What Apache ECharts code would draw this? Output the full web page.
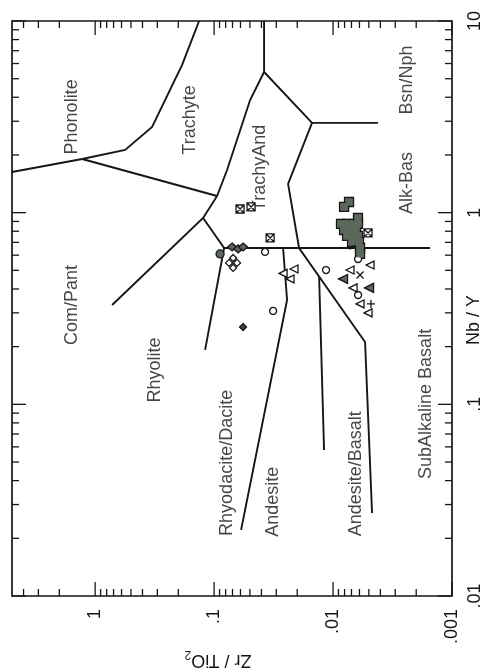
<!DOCTYPE html>
<html>
<head>
<meta charset="utf-8">
<title>Zr/TiO2 vs Nb/Y</title>
<script src="https://cdn.jsdelivr.net/npm/echarts@6/dist/echarts.min.js"></script>
<style>
  html, body { margin: 0; padding: 0; background: #fff; }
  #chart { width: 497px; height: 672px; }
</style>
</head>
<body>
<div id="chart"></div>
<script>
// Winchester & Floyd style discrimination diagram, drawn turned on its side:
// Zr/TiO2 runs along the bottom (decreasing to the right), Nb/Y up the right edge.

// ---- axis ranges and ticks ----
const zrRange = [0.001, 5];
const nbRange = [0.01, 10];
const zrMajorTicks = [0.001, 0.01, 0.1, 1];
const zrTickLabels = ['.001', '.01', '.1', '1'];
const zrMinorTicks = [0.002, 0.003, 0.004, 0.005, 0.006, 0.007, 0.008, 0.009,
                      0.02, 0.03, 0.04, 0.05, 0.06, 0.07, 0.08, 0.09,
                      0.2, 0.3, 0.4, 0.5, 0.6, 0.7, 0.8, 0.9,
                      2, 3, 4];
const nbMajorTicks = [0.01, 0.1, 1, 10];
const nbTickLabels = ['.01', '.1', '1', '10'];
const nbMinorTicks = [0.02, 0.03, 0.04, 0.05, 0.06, 0.07, 0.08, 0.09,
                      0.2, 0.3, 0.4, 0.5, 0.6, 0.7, 0.8, 0.9,
                      2, 3, 4, 5, 6, 7, 8, 9];

// ---- field boundaries, points are [Zr/TiO2, Nb/Y] ----
const phonoliteBoundary = [[5, 1.63], [1.286, 1.906], [0.5597, 2.124], [0.332, 2.80], [0.1857, 5.90], [0.1337, 10]];
const trachyteComPant = [[1.286, 1.906], [0.0944, 1.222]];
const trachyteTrachyAnd = [[0.0944, 1.222], [0.0778, 1.670], [0.0498, 3.87], [0.0380, 5.42], [0.0380, 10]];
const bsnNphBoundary = [[0.0380, 5.42], [0.01502, 2.94], [0.00419, 2.94]];
const alkBasBoundary = [[0.01502, 2.94], [0.02388, 1.412], [0.0193, 0.654], [0.00538, 0.2116], [0.0047, 0.02713]];
const rhyoliteComPant = [[0.0944, 1.222], [0.1237, 0.938], [0.7197, 0.330]];
const rhyoliteDacite = [[0.1237, 0.938], [0.0824, 0.654], [0.119, 0.1922]];
const trachyAndBase = [[0.0824, 0.654], [0.00153, 0.654]];
const daciteAndesite = [[0.0263, 0.654], [0.02435, 0.3504], [0.0593, 0.02212]];
const andesiteBasalt = [[0.0131, 0.4675], [0.0119, 0.0578]];

// ---- field names and where they sit ----
const fieldNames = ['Phonolite', 'Trachyte', 'TrachyAnd', 'Bsn/Nph', 'Alk-Bas', 'Com/Pant',
                    'Rhyolite', 'Rhyodacite/Dacite', 'Andesite', 'Andesite/Basalt', 'SubAlkaline Basalt'];
const fieldPositions = [[1.56, 3.16], [0.159, 3.045], [0.0411, 1.711], [0.00239, 4.92], [0.00239, 1.428],
                        [1.56, 0.330], [0.313, 0.151], [0.0778, 0.0495], [0.0319, 0.031],
                        [0.00641, 0.0434], [0.00165, 0.1005]];

// ---- samples, [Zr/TiO2, Nb/Y] ----
const greySquares = [[0.00734, 1.137], [0.00808, 1.071],
                     [0.00617, 0.938],
                     [0.00857, 0.873], [0.00762, 0.873], [0.00679, 0.873], [0.00617, 0.873],
                     [0.00808, 0.812], [0.00720, 0.812], [0.00641, 0.812],
                     [0.00762, 0.756], [0.00679, 0.756], [0.00617, 0.756],
                     [0.00692, 0.703], [0.00605, 0.703],
                     [0.00593, 0.654], [0.00593, 0.609]];
const crossedSquares = [[0.0605, 1.045], [0.0489, 1.071], [0.0338, 0.738], [0.00508, 0.784]];
const greyDiamonds = [[0.0706, 0.662], [0.0628, 0.647], [0.0571, 0.662]];
const greyCircles = [[0.0891, 0.609]];
const openDiamonds = [[0.0748, 0.547], [0.0692, 0.580], [0.0641, 0.547], [0.0692, 0.515]];
const openCircles = [[0.0373, 0.624], [0.0319, 0.307], [0.01145, 0.502], [0.00616, 0.573], [0.00616, 0.372]];
const openTriangles = [[0.0263, 0.482], [0.0213, 0.508], [0.0230, 0.451], [0.00489, 0.533], [0.0072, 0.502],
                       [0.00679, 0.405], [0.00593, 0.334], [0.00508, 0.300]];
const greyTriangles = [[0.00824, 0.451], [0.00498, 0.405]];
const crosses = [[0.00679, 0.670], [0.00593, 0.473]];
const plusses = [[0.0048, 0.334]];
const smallDiamonds = [[0.0571, 0.253]];

// ---- styling ----
const FONT = 'Liberation Sans, Arial, Helvetica, sans-serif';
const INK = '#161616';
const GREY = '#5b685c';
const TICK_MAJOR = 14;
const TICK_MINOR = 7;
const TRI_LEFT = 'path://M0,5 L9,0 L9,10 Z';
const CROSS_X = 'path://M0,0 L10,10 M10,0 L0,10';
const PLUS = 'path://M5,0 L5,10 M0,5 L10,5';
const BOX_X = 'path://M0,0 L10,0 L10,10 L0,10 Z M0,0 L10,10 M10,0 L0,10';

function tickLabel(majors, labels) {
  return function (v) {
    const e = Math.log10(v);
    for (let i = 0; i < majors.length; i++) {
      if (Math.abs(e - Math.log10(majors[i])) < 1e-6) return labels[i];
    }
    return '';
  };
}

function scatter(data, symbol, size, fill, extra) {
  return Object.assign({
    type: 'scatter',
    data: data,
    symbol: symbol,
    symbolSize: size,
    silent: true,
    z: 4,
    itemStyle: { color: fill, borderColor: INK, borderWidth: 1.3, opacity: 1 }
  }, extra || {});
}

const tickStyle = { stroke: INK, lineWidth: 1.3 };

const zrTickData = zrMajorTicks.map(v => [v, nbRange[0], 1])
  .concat(zrMinorTicks.map(v => [v, nbRange[0], 0]));
const nbTickData = nbMajorTicks.map(v => [zrRange[0], v, 1])
  .concat(nbMinorTicks.map(v => [zrRange[0], v, 0]));

const boundaries = [phonoliteBoundary, trachyteComPant, trachyteTrachyAnd, bsnNphBoundary, alkBasBoundary,
                    rhyoliteComPant, rhyoliteDacite, trachyAndBase, daciteAndesite, andesiteBasalt];

const chart = echarts.init(document.getElementById('chart'), null, { renderer: 'canvas' });

chart.setOption({
  animation: false,
  backgroundColor: '#fff',
  textStyle: { fontFamily: FONT },
  grid: {
    left: 12, right: 45, top: 21, bottom: 76,
    show: true, borderColor: INK, borderWidth: 1.7, backgroundColor: 'transparent',
    outerBoundsMode: 'none'
  },
  xAxis: {
    type: 'log',
    min: zrRange[0],
    max: zrRange[1],
    inverse: true,
    position: 'bottom',
    axisLine: { show: false },
    axisTick: { show: false },
    splitLine: { show: false },
    minorTick: { show: false },
    axisLabel: {
      rotate: 90, margin: 13, fontSize: 18, color: INK, fontFamily: FONT,
      showMinLabel: true, showMaxLabel: true,
      formatter: tickLabel(zrMajorTicks, zrTickLabels)
    }
  },
  yAxis: {
    type: 'log',
    min: nbRange[0],
    max: nbRange[1],
    position: 'right',
    axisLine: { show: false },
    axisTick: { show: false },
    splitLine: { show: false },
    minorTick: { show: false },
    axisLabel: {
      rotate: 90, margin: 14, fontSize: 18, color: INK, fontFamily: FONT,
      showMinLabel: true, showMaxLabel: true,
      formatter: tickLabel(nbMajorTicks, nbTickLabels)
    }
  },
  graphic: [
    {
      type: 'text', x: 218, y: 660, rotation: Math.PI, silent: true,
      style: {
        text: '{n|Zr / TiO}{s|2}',
        align: 'center', verticalAlign: 'middle', fill: INK,
        rich: {
          n: { fontSize: 18, fontFamily: FONT, fill: INK, lineHeight: 24, verticalAlign: 'middle' },
          s: { fontSize: 12, fontFamily: FONT, fill: INK, lineHeight: 14, verticalAlign: 'bottom' }
        }
      }
    },
    {
      type: 'text', x: 474, y: 320, rotation: Math.PI / 2, silent: true,
      style: {
        text: 'Nb / Y', fontSize: 18, fontFamily: FONT, fill: INK,
        align: 'center', verticalAlign: 'middle'
      }
    }
  ],
  series: [
    // field boundaries
    {
      type: 'lines',
      coordinateSystem: 'cartesian2d',
      polyline: true,
      silent: true,
      z: 2,
      lineStyle: { color: INK, width: 1.9, opacity: 1 },
      data: boundaries.map(c => ({ coords: c }))
    },
    // field names
    {
      type: 'scatter',
      symbolSize: 0,
      silent: true,
      z: 3,
      data: fieldNames.map((n, i) => ({ name: n, value: fieldPositions[i] })),
      label: {
        show: true, position: 'inside', rotate: 90,
        formatter: '{b}', fontSize: 18, color: INK, fontFamily: FONT,
        align: 'center', verticalAlign: 'middle'
      }
    },
    // ticks on the Zr/TiO2 edges (bottom and top), pointing inward
    {
      type: 'custom',
      coordinateSystem: 'cartesian2d',
      silent: true,
      clip: false,
      z: 6,
      data: zrTickData,
      encode: { x: 0, y: 1 },
      renderItem: function (params, api) {
        const v = api.value(0);
        const len = api.value(2) ? TICK_MAJOR : TICK_MINOR;
        const b = api.coord([v, nbRange[0]]);
        const t = api.coord([v, nbRange[1]]);
        return {
          type: 'group',
          children: [
            { type: 'line', shape: { x1: b[0], y1: b[1], x2: b[0], y2: b[1] - len }, style: tickStyle },
            { type: 'line', shape: { x1: t[0], y1: t[1], x2: t[0], y2: t[1] + len }, style: tickStyle }
          ]
        };
      }
    },
    // ticks on the Nb/Y edges (right and left), pointing inward
    {
      type: 'custom',
      coordinateSystem: 'cartesian2d',
      silent: true,
      clip: false,
      z: 6,
      data: nbTickData,
      encode: { x: 0, y: 1 },
      renderItem: function (params, api) {
        const v = api.value(1);
        const len = api.value(2) ? TICK_MAJOR : TICK_MINOR;
        const r = api.coord([zrRange[0], v]);
        const l = api.coord([zrRange[1], v]);
        return {
          type: 'group',
          children: [
            { type: 'line', shape: { x1: r[0], y1: r[1], x2: r[0] - len, y2: r[1] }, style: tickStyle },
            { type: 'line', shape: { x1: l[0], y1: l[1], x2: l[0] + len, y2: l[1] }, style: tickStyle }
          ]
        };
      }
    },
    // samples: the grey squares are drawn twice (outline pass, then fill pass)
    // so that overlapping squares merge into one outlined patch
    scatter(greySquares, 'rect', 9, GREY),
    scatter(greySquares, 'rect', 7, GREY, { z: 5, itemStyle: { color: GREY, borderWidth: 0, opacity: 1 } }),
    scatter(crossedSquares, BOX_X, 8, '#fff'),
    scatter(greyDiamonds, 'diamond', [9, 8], GREY),
    scatter(greyCircles, 'circle', 8, GREY),
    scatter(openDiamonds, 'diamond', 7, '#fff'),
    scatter(openCircles, 'circle', 7, '#fff'),
    scatter(openTriangles, TRI_LEFT, 8, '#fff'),
    scatter(greyTriangles, TRI_LEFT, 9, GREY),
    scatter(crosses, CROSS_X, 7, '#fff'),
    scatter(plusses, PLUS, 8, '#fff'),
    scatter(smallDiamonds, 'diamond', 7, '#444')
  ]
});
</script>
</body>
</html>
